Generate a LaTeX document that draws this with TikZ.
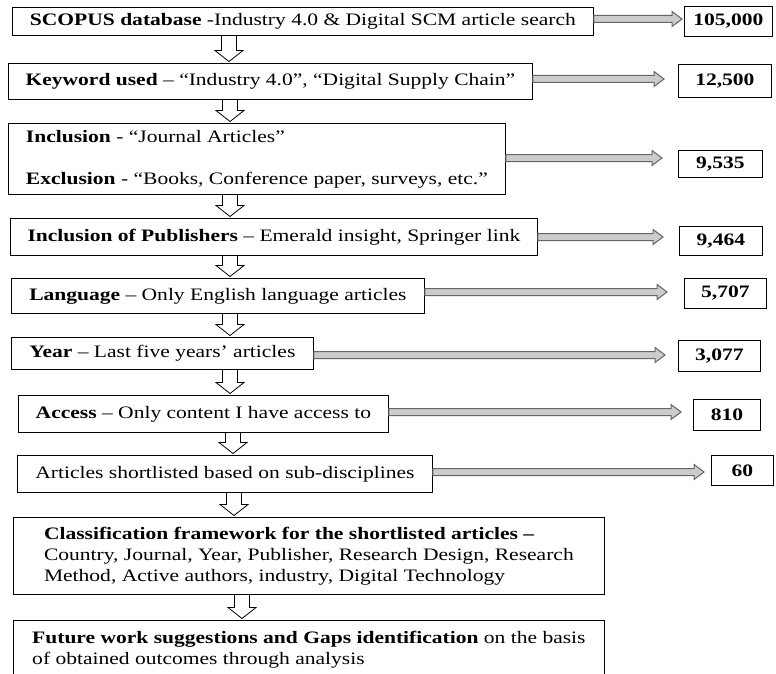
\documentclass[tikz,border=0pt]{standalone}
\usepackage{fontspec}
\setmainfont{Liberation Serif}[FakeStretch=1.23]
\usetikzlibrary{calc}
\newcommand\mainsize{\fontsize{17.5}{21}\selectfont}
\tikzset{
  box/.style={draw=black, line width=0.8pt, anchor=north west, inner sep=1pt, align=left, font=\mainsize},
  numbox/.style={draw=black, line width=0.8pt, anchor=north west, inner sep=1pt, align=center, font=\mainsize\bfseries},
  downarr/.style={draw=black, line width=0.8pt, fill=white, line join=miter},
  rightarr/.style={draw=black!60, line width=1pt, fill=black!20, line join=miter}
}
\newcommand\downflow[3]{%
  \draw[downarr] let \p1=(#1.south), \p2=(#2.north) in
   (#3pt-7.5pt,\y1-0.4pt) -- (#3pt-7.5pt,\y2+12.5pt) -- (#3pt-14pt,\y2+12.5pt) -- (#3pt,\y2+1.5pt)
   -- (#3pt+14pt,\y2+12.5pt) -- (#3pt+7.5pt,\y2+12.5pt) -- (#3pt+7.5pt,\y1-0.4pt);}
\newcommand\rightflow[4]{%
  \draw[rightarr] let \p1=(#1.east), \p2=(#2.west) in
   (\x1,-#3pt+3.5pt) -- (\x2-#4pt-10pt,-#3pt+3.5pt) -- (\x2-#4pt-10pt,-#3pt+7.5pt) -- (\x2-#4pt,-#3pt)
   -- (\x2-#4pt-10pt,-#3pt-7.5pt) -- (\x2-#4pt-10pt,-#3pt-3.5pt) -- (\x1,-#3pt-3.5pt) -- cycle;}
\begin{document}
\begin{tikzpicture}[x=1pt,y=-1pt]
\useasboundingbox (0,0) rectangle (776,674);
\fill[white] (0,0) rectangle (776,674);
% main boxes
\node[box, minimum width=581pt, minimum height=28pt] (b1) at (12,7) {\textbf{SCOPUS database} -Industry 4.0 \& Digital SCM article search};
\node[box, minimum width=524pt, minimum height=36pt] (b2) at (8,63) {\textbf{Keyword used} – “Industry 4.0”, “Digital Supply Chain”};
\node[box, minimum width=497pt, minimum height=71pt] (b3) at (8,123) {\textbf{Inclusion} - “Journal Articles”\\[21pt]\textbf{Exclusion} - “Books, Conference paper, surveys, etc.”};
\node[box, minimum width=527pt, minimum height=37pt] (b4) at (10,218) {\textbf{Inclusion of Publishers} – Emerald insight, Springer link};
\node[box, minimum width=413pt, minimum height=35pt] (b5) at (11,278) {\textbf{Language} – Only English language articles};
\node[box, minimum width=302pt, minimum height=32pt] (b6) at (11,337) {\textbf{Year} – Last five years’ articles};
\node[box, minimum width=370pt, minimum height=37pt] (b7) at (18,395) {\textbf{Access} – Only content I have access to};
\node[box, minimum width=415pt, minimum height=37pt] (b8) at (17,455) {Articles shortlisted based on sub-disciplines};
\node[box, minimum width=591pt, minimum height=77pt] (b9) at (13,517) {\textbf{Classification framework for the shortlisted articles –}\\Country, Journal, Year, Publisher, Research Design, Research\\Method, Active authors, industry, Digital Technology};
\node[box, minimum width=591pt, minimum height=58pt] (b10) at (13,620) {\textbf{Future work suggestions and Gaps identification} on the basis\\of obtained outcomes through analysis};
% number boxes
\node[numbox, minimum width=88pt, minimum height=30pt] (n1) at (684,6) {105,000};
\node[numbox, minimum width=93pt, minimum height=33pt] (n2) at (678,64) {12,500};
\node[numbox, minimum width=84pt, minimum height=27pt] (n3) at (678,150) {9,535};
\node[numbox, minimum width=83pt, minimum height=29pt] (n4) at (679,226) {9,464};
\node[numbox, minimum width=82pt, minimum height=30pt] (n5) at (684,278) {5,707};
\node[numbox, minimum width=82pt, minimum height=31pt] (n6) at (678,340) {3,077};
\node[numbox, minimum width=67pt, minimum height=31pt] (n7) at (693,399) {810};
\node[numbox, minimum width=62pt, minimum height=30pt] (n8) at (711,455) {60};
% down arrows
\downflow{b1}{b2}{229}
\downflow{b2}{b3}{230}
\downflow{b3}{b4}{230}
\downflow{b4}{b5}{230}
\downflow{b5}{b6}{230}
\downflow{b6}{b7}{230}
\downflow{b7}{b8}{233}
\downflow{b8}{b9}{234}
\downflow{b9}{b10}{242}
% right arrows
\rightflow{b1}{n1}{19}{2}
\rightflow{b2}{n2}{79}{14}
\rightflow{b3}{n3}{158}{16}
\rightflow{b4}{n4}{237}{16}
\rightflow{b5}{n5}{292}{17}
\rightflow{b6}{n6}{355}{13}
\rightflow{b7}{n7}{412}{12}
\rightflow{b8}{n8}{472}{7}
\end{tikzpicture}
\end{document}
